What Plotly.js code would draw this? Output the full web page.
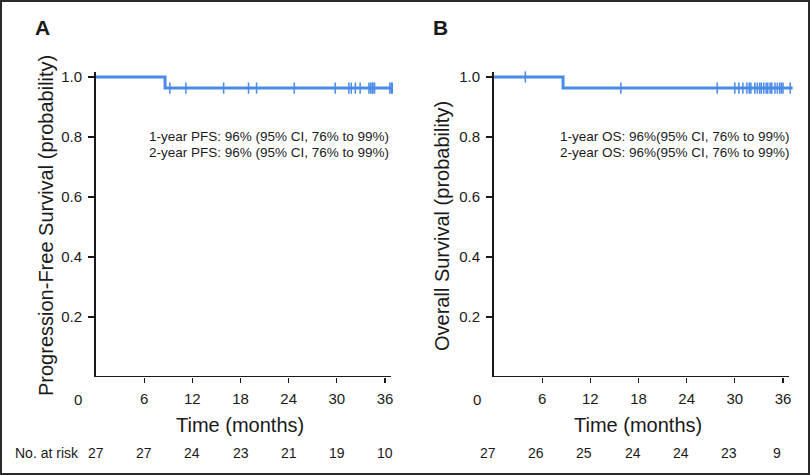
<!DOCTYPE html>
<html>
<head>
<meta charset="utf-8">
<script src="https://cdn.plot.ly/plotly-3.0.1.min.js"></script>
<style>
  html, body { margin: 0; padding: 0; background: #fff; }
  #chart { width: 810px; height: 475px; }
</style>
</head>
<body>
<div id="chart"></div>
<script>
// ---- Data ----
const riskMonths = [0, 6, 12, 18, 24, 30, 36];
const riskA = [27, 27, 24, 23, 21, 19, 10];
const riskB = [27, 26, 25, 24, 24, 23, 9];

// Panel A: progression-free survival step curve
const stepTimesA = [0, 8.6, 37.0];
const stepSurvA = [1.0, 0.963, 0.963];
const censorTimesA = [9.2, 11.2, 15.9, 19.0, 20.0, 24.7, 29.8, 31.5, 31.8, 32.3, 32.9,
  34.0, 34.2, 34.4, 34.5, 34.7, 36.6, 36.8, 36.9];

// Panel B: overall survival step curve
const stepTimesB = [0, 8.6, 37.2];
const stepSurvB = [1.0, 0.963, 0.963];
const censorTimesB = [3.9, 15.8, 27.8, 30.0, 30.5, 31.0, 31.5, 31.8, 32.0, 32.5, 32.8,
  33.1, 33.3, 33.6, 33.9, 34.1, 34.4, 34.6, 35.0, 35.3, 35.6, 35.8, 36.0, 36.9];

const xTicks = [6, 12, 18, 24, 30, 36];
const yTicks = [0.2, 0.4, 0.6, 0.8, 1.0];
const yTickText = ['0.2', '0.4', '0.6', '0.8', '1.0'];

const noteA = ['1-year PFS: 96% (95% CI, 76% to 99%)', '2-year PFS: 96% (95% CI, 76% to 99%)'];
const noteB = ['1-year OS: 96%(95% CI, 76% to 99%)', '2-year OS: 96%(95% CI, 76% to 99%)'];

// ---- helpers ----
function survAt(times, surv, t) {
  let s = surv[0];
  for (let i = 0; i < times.length; i++) { if (times[i] <= t) s = surv[i]; }
  return s;
}

const BLUE = '#4a8ae8';
const INK = '#1a1a1a';
const TITLEF = '"Liberation Sans", Arial, Helvetica, sans-serif';
const REG = '"Liberation Sans", Arial, Helvetica, sans-serif';

const W = 810, H = 475;
const px = v => v / W;
const py = v => 1 - v / H;

const traces = [];
function addPanel(xa, ya, times, surv, censors) {
  traces.push({
    type: 'scatter', mode: 'lines', x: times, y: surv, xaxis: xa, yaxis: ya,
    line: { color: BLUE, width: 3, shape: 'hv' }, hoverinfo: 'skip', showlegend: false
  });
  traces.push({
    type: 'scatter', mode: 'markers', x: censors,
    y: censors.map(t => survAt(times, surv, t)), xaxis: xa, yaxis: ya,
    marker: { symbol: 'line-ns', size: 8, line: { color: BLUE, width: 1.5 } },
    hoverinfo: 'skip', showlegend: false, cliponaxis: false
  });
}
addPanel('x', 'y', stepTimesA, stepSurvA, censorTimesA);
addPanel('x2', 'y2', stepTimesB, stepSurvB, censorTimesB);

const XMAX = 37.3;
const pxPerMonth = (385 - 96) / 36;
const yDomain = [py(377), py(72)];
const yMax = (377 - 72) / 300;

function xAxis(left) {
  return {
    domain: [px(left), px(left + XMAX * pxPerMonth)],
    range: [0, XMAX], showline: false, showgrid: false, zeroline: false,
    tickmode: 'array', tickvals: xTicks, ticktext: xTicks.map(String),
    ticks: 'outside', ticklen: 5, tickwidth: 1.3, tickcolor: INK,
    tickfont: { family: REG, size: 15, color: INK }, ticklabelstandoff: 3,
    fixedrange: true
  };
}
function yAxis(anchor) {
  return {
    domain: yDomain, range: [0, yMax], anchor: anchor,
    showline: true, linecolor: INK, linewidth: 2, showgrid: false, zeroline: false,
    tickmode: 'array', tickvals: yTicks, ticktext: yTickText,
    ticks: 'outside', ticklen: 6, tickwidth: 1.3, tickcolor: INK,
    tickfont: { family: REG, size: 15, color: INK }, ticklabelstandoff: 3,
    fixedrange: true
  };
}

const annotations = [];
function ann(text, x, y, opts) {
  annotations.push(Object.assign({
    text: text, x: px(x), y: py(y), xref: 'paper', yref: 'paper',
    showarrow: false, xanchor: 'center', yanchor: 'middle',
    font: { family: REG, size: 13.5, color: INK }
  }, opts || {}));
}

// panel letters
ann('<b>A</b>', 42, 27, { font: { family: REG, size: 21, color: INK } });
ann('<b>B</b>', 440, 27, { font: { family: REG, size: 21, color: INK } });

// axis titles
ann('Progression-Free Survival (probability)', 46, 226, { textangle: -90, font: { family: TITLEF, size: 20, color: INK } });
ann('Overall Survival (probability)', 442, 226, { textangle: -90, font: { family: TITLEF, size: 20, color: INK } });
ann('Time (months)', 240, 425, { font: { family: TITLEF, size: 20, color: INK } });
ann('Time (months)', 638, 425, { font: { family: TITLEF, size: 20, color: INK } });

// origin labels
ann('0', 78, 399, { font: { family: REG, size: 15, color: INK } });
ann('0', 477, 399, { font: { family: REG, size: 15, color: INK } });

// estimate notes
ann(noteA[0], 391, 137, { xanchor: 'right' });
ann(noteA[1], 391, 153, { xanchor: 'right' });
ann(noteB[0], 792, 137, { xanchor: 'right' });
ann(noteB[1], 792, 153, { xanchor: 'right' });

// number at risk
ann('No. at risk', 13, 453, { xanchor: 'left', font: { family: REG, size: 14, color: INK } });
riskMonths.forEach((m, i) => {
  annotations.push({ text: String(riskA[i]), x: m, y: py(453), xref: 'x', yref: 'paper',
    showarrow: false, xanchor: 'center', yanchor: 'middle',
    font: { family: REG, size: 14, color: INK } });
  annotations.push({ text: String(riskB[i]), x: m, y: py(453), xref: 'x2', yref: 'paper',
    showarrow: false, xanchor: 'center', yanchor: 'middle', xshift: -6,
    font: { family: REG, size: 14, color: INK } });
});

const shapes = [
  // x-axis baselines
  { type: 'line', xref: 'x', yref: 'y', x0: 0, x1: 36.75, y0: 0, y1: 0, line: { color: INK, width: 2 } },
  { type: 'line', xref: 'x2', yref: 'y2', x0: 0, x1: 36.75, y0: 0, y1: 0, line: { color: INK, width: 2 } },
  // outer frame
  { type: 'rect', xref: 'paper', yref: 'paper', x0: px(1), x1: px(809), y0: py(474), y1: py(1),
    line: { color: '#2a2a2a', width: 2 }, fillcolor: 'rgba(0,0,0,0)' }
];

const layout = {
  width: W, height: H,
  margin: { l: 0, r: 0, t: 0, b: 0, pad: 0 },
  paper_bgcolor: '#ffffff', plot_bgcolor: '#ffffff',
  showlegend: false,
  xaxis: Object.assign(xAxis(96), { anchor: 'y' }),
  yaxis: yAxis('x'),
  xaxis2: Object.assign(xAxis(494), { anchor: 'y2' }),
  yaxis2: yAxis('x2'),
  annotations: annotations,
  shapes: shapes
};

Plotly.newPlot('chart', traces, layout, { displayModeBar: false, staticPlot: true });
</script>
</body>
</html>
